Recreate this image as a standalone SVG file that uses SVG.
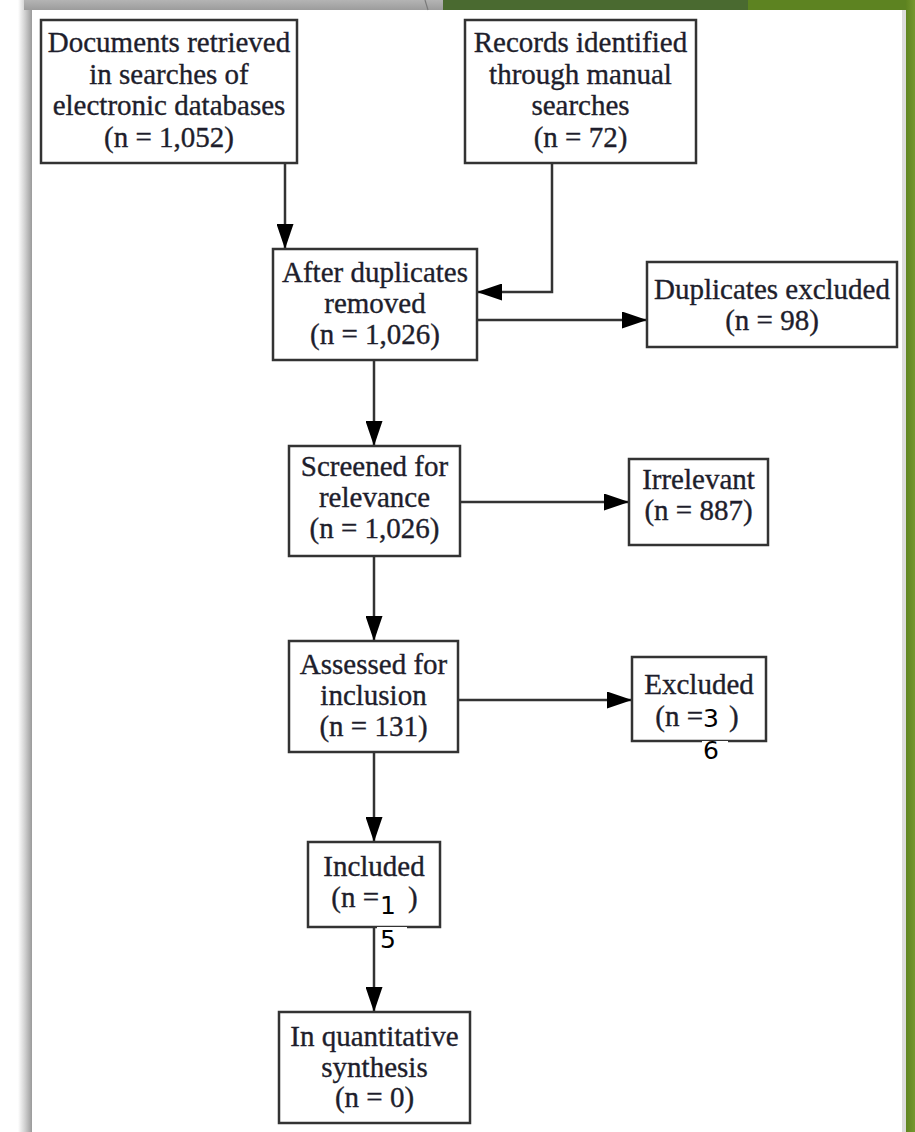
<svg xmlns="http://www.w3.org/2000/svg" width="915" height="1132" viewBox="0 0 915 1132">
<defs>
<linearGradient id="lsh" x1="0" y1="0" x2="1" y2="0">
<stop offset="0" stop-color="#ffffff"/>
<stop offset="0.5" stop-color="#d0d0d0"/>
<stop offset="1" stop-color="#9a9a9a"/>
</linearGradient>
<linearGradient id="tgrey" x1="0" y1="0" x2="0" y2="1">
<stop offset="0" stop-color="#b4b4b4"/>
<stop offset="1" stop-color="#9c9c9c"/>
</linearGradient>
<linearGradient id="rgreen" x1="0" y1="0" x2="1" y2="0">
<stop offset="0" stop-color="#5f8420"/>
<stop offset="1" stop-color="#75982e"/>
</linearGradient>
<marker id="ah" markerUnits="userSpaceOnUse" markerWidth="25" markerHeight="17" refX="25" refY="8.5" orient="auto">
<path d="M0,0 L25,8.5 L0,17 z" fill="#000"/>
</marker>
<style>
.box{fill:#fff;stroke:#333;stroke-width:2.5}
.t{font-family:"Liberation Serif","Times New Roman",serif;font-size:29px;fill:#1e1e2c;stroke:#1e1e2c;stroke-width:0.35;text-anchor:middle}
.ts{font-family:"Liberation Serif","Times New Roman",serif;font-size:29px;fill:#1e1e2c;stroke:#1e1e2c;stroke-width:0.35}
.d{font-family:"DejaVu Sans",Verdana,sans-serif;font-size:25px;fill:#000;text-anchor:middle}
.c{fill:none;stroke:#333;stroke-width:2.5;marker-end:url(#ah)}
</style>
</defs>
<g id="background">
<rect x="0" y="0" width="915" height="1132" fill="#fff"/>
<rect x="18" y="0" width="14" height="1132" fill="url(#lsh)"/>
<rect x="24" y="0" width="420" height="10" fill="url(#tgrey)"/>
<path d="M425,0 L428,10" stroke="#7a7a7a" stroke-width="1.2"/>
<rect x="443" y="0" width="306" height="10" fill="#4a6a30"/>
<rect x="748" y="0" width="167" height="10" fill="#5d8321"/>
<rect x="902" y="10" width="5" height="1122" fill="#dcdcdc"/>
<rect x="906" y="0" width="9" height="1132" fill="url(#rgreen)"/>
</g>
<g id="connectors">
<path class="c" d="M285,163 L285,249"/>
<path class="c" d="M552,163 L552,292 L477,292"/>
<path class="c" d="M477,320 L647,320"/>
<path class="c" d="M374,360 L374,446"/>
<path class="c" d="M460,502 L629,502"/>
<path class="c" d="M374,556 L374,641"/>
<path class="c" d="M458,700 L632,700"/>
<path class="c" d="M374,752 L374,842"/>
<path class="c" d="M374,927 L374,1012"/>
</g>
<g id="n-documents">
<rect class="box" x="41" y="20" width="256" height="143"/>
<text class="t" x="169" y="52">Documents retrieved</text>
<text class="t" x="169" y="83.5">in searches of</text>
<text class="t" x="169" y="115">electronic databases</text>
<text class="t" x="169" y="147">(n = 1,052)</text>
</g>
<g id="n-records">
<rect class="box" x="465" y="20" width="231" height="143"/>
<text class="t" x="580.5" y="52">Records identified</text>
<text class="t" x="580.5" y="83.5">through manual</text>
<text class="t" x="580.5" y="115">searches</text>
<text class="t" x="580.5" y="147">(n = 72)</text>
</g>
<g id="n-after">
<rect class="box" x="273" y="249" width="204" height="111"/>
<text class="t" x="375" y="282">After duplicates</text>
<text class="t" x="375" y="313">removed</text>
<text class="t" x="375" y="344">(n = 1,026)</text>
</g>
<g id="n-dupex">
<rect class="box" x="647" y="262" width="250" height="85"/>
<text class="t" x="772" y="299">Duplicates excluded</text>
<text class="t" x="772" y="330">(n = 98)</text>
</g>
<g id="n-screened">
<rect class="box" x="289" y="446" width="171" height="110"/>
<text class="t" x="374.5" y="476">Screened for</text>
<text class="t" x="374.5" y="507">relevance</text>
<text class="t" x="374.5" y="538">(n = 1,026)</text>
</g>
<g id="n-irrelevant">
<rect class="box" x="629" y="459" width="139" height="86"/>
<text class="t" x="698.5" y="489">Irrelevant</text>
<text class="t" x="698.5" y="520">(n = 887)</text>
</g>
<g id="n-assessed">
<rect class="box" x="289" y="641" width="169" height="111"/>
<text class="t" x="373.5" y="674">Assessed for</text>
<text class="t" x="373.5" y="705">inclusion</text>
<text class="t" x="373.5" y="736">(n = 131)</text>
</g>
<g id="n-excluded">
<rect class="box" x="632" y="657" width="134" height="84"/>
<text class="t" x="699" y="694">Excluded</text>
<text class="ts" x="703" y="726" text-anchor="end">(n =</text>
<text class="ts" x="729" y="726">)</text>
<text class="d" x="711" y="727">3</text>
<rect x="702" y="741" width="26" height="22" fill="#fff"/>
<text class="d" x="711" y="759">6</text>
</g>
<g id="n-included">
<rect class="box" x="308" y="842" width="132" height="85"/>
<text class="t" x="374" y="876">Included</text>
<text class="ts" x="379" y="907" text-anchor="end">(n =</text>
<text class="ts" x="408" y="907">)</text>
<text class="d" x="388" y="914">1</text>
<rect x="377" y="927" width="30" height="24" fill="#fff"/>
<text class="d" x="388" y="948">5</text>
</g>
<g id="n-quant">
<rect class="box" x="279" y="1012" width="191" height="111"/>
<text class="t" x="374.5" y="1046">In quantitative</text>
<text class="t" x="374.5" y="1077">synthesis</text>
<text class="t" x="374.5" y="1107">(n = 0)</text>
</g>
</svg>
